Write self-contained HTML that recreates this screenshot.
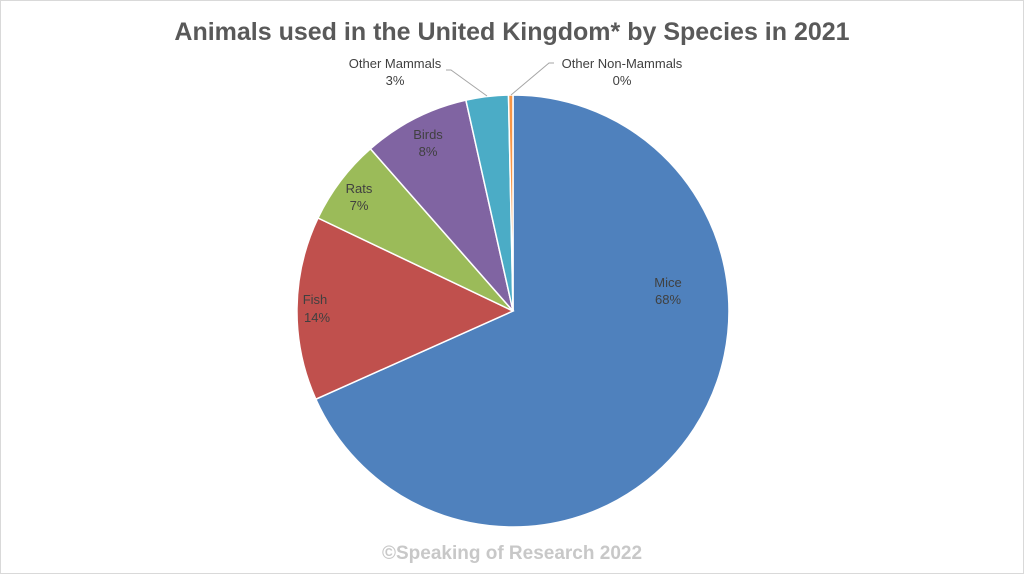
<!DOCTYPE html>
<html><head><meta charset="utf-8"><style>
html,body{margin:0;padding:0;background:#fff;}
svg{display:block;}
text{font-family:"Liberation Sans",sans-serif;}
</style></head><body>
<svg width="1024" height="574" viewBox="0 0 1024 574">
<rect x="0.5" y="0.5" width="1023" height="573" fill="#fff" stroke="#d9d9d9"/>
<text x="512" y="40" text-anchor="middle" font-size="25" font-weight="bold" fill="#595959">Animals used in the United Kingdom* by Species in 2021</text>
<g stroke="#fff" stroke-width="1.5">
<path d="M513,311 L513,95 A216,216 0 1 1 315.8,399.2 Z" fill="#4f81bd"/>
<path d="M513,311 L315.8,399.2 A216,216 0 0 1 318,218 Z" fill="#c0504d"/>
<path d="M513,311 L318,218 A216,216 0 0 1 370.4,148.8 Z" fill="#9bbb59"/>
<path d="M513,311 L370.4,148.8 A216,216 0 0 1 465.9,100.2 Z" fill="#8064a2"/>
<path d="M513,311 L465.9,100.2 A216,216 0 0 1 508.5,95 Z" fill="#4bacc6"/>
<path d="M513,311 L508.5,95 A216,216 0 0 1 513,95 Z" fill="#f79646"/>
</g>
<g stroke="#a6a6a6" fill="none" stroke-width="1">
<polyline points="446,70 451,70 487,96"/>
<polyline points="554,63 549,63 511,95"/>
</g>
<g font-size="13" fill="#404040" text-anchor="middle">
<text x="395" y="68">Other Mammals</text><text x="395" y="85">3%</text>
<text x="622" y="68">Other Non-Mammals</text><text x="622" y="85">0%</text>
<text x="428" y="139">Birds</text><text x="428" y="156">8%</text>
<text x="359" y="193">Rats</text><text x="359" y="210">7%</text>
<text x="315" y="304">Fish</text><text x="317" y="322">14%</text>
<text x="668" y="287">Mice</text><text x="668" y="304">68%</text>
</g>
<text x="512" y="559" text-anchor="middle" font-size="19" font-weight="bold" fill="#c8c8c8">©Speaking of Research 2022</text>
</svg>
</body></html>
